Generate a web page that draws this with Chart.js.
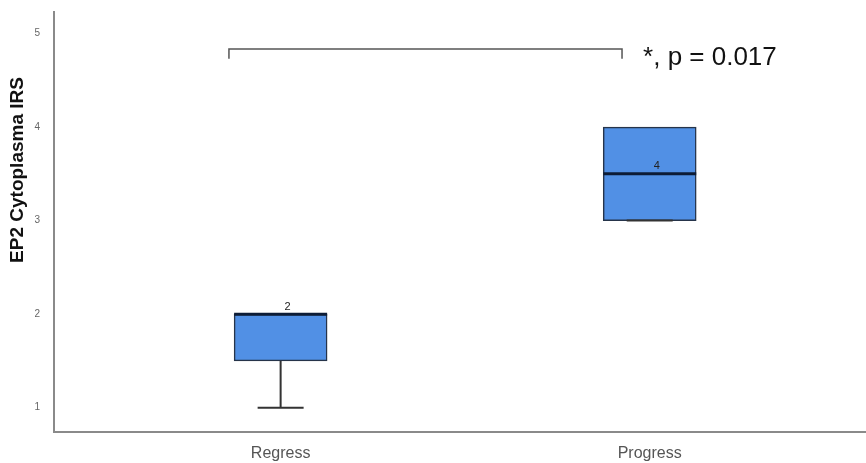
<!DOCTYPE html>
<html>
<head>
<meta charset="utf-8">
<script src="https://cdn.jsdelivr.net/npm/chart.js@4.4.1/dist/chart.umd.min.js"></script>
<style>
  body { margin: 0; background: #fff; }
  #wrap { width: 866px; height: 463px; }
</style>
</head>
<body>
<div id="wrap"><canvas id="boxChart" width="866" height="463"></canvas></div>
<script>
// box plot values per group
const groups = ['Regress', 'Progress'];
const groupPos = [1, 2];
const minVals = [1, 3];
const q1Vals = [1.5, 3];
const medianVals = [2, 3.5];
const q3Vals = [2, 4];
const maxVals = [2, 4];
const boxLabels = ['2', '4'];
const yTicks = [1, 2, 3, 4, 5];

// significance bracket (data coords)
const bracketX = [0.86, 1.925];
const bracketY = [4.835, 4.73];
const pValueText = '*, p = 0.017';
const pValuePos = [1.982, 4.66];

const yTitle = 'EP2 Cytoplasma IRS';

const boxPlugin = {
  id: 'boxParts',
  afterDatasetsDraw(chart) {
    const ctx = chart.ctx;
    const xs = chart.scales.x, ys = chart.scales.y;
    ctx.save();
    groups.forEach((g, i) => {
      const cx = xs.getPixelForValue(groupPos[i]);
      const half = 46.5;
      // whiskers
      ctx.strokeStyle = '#333';
      ctx.lineWidth = 2;
      ctx.beginPath();
      ctx.moveTo(cx, ys.getPixelForValue(q1Vals[i]));
      ctx.lineTo(cx, ys.getPixelForValue(minVals[i]));
      ctx.moveTo(cx - 23, ys.getPixelForValue(minVals[i]));
      ctx.lineTo(cx + 23, ys.getPixelForValue(minVals[i]));
      if (maxVals[i] > q3Vals[i]) {
        ctx.moveTo(cx, ys.getPixelForValue(q3Vals[i]));
        ctx.lineTo(cx, ys.getPixelForValue(maxVals[i]));
        ctx.moveTo(cx - 23, ys.getPixelForValue(maxVals[i]));
        ctx.lineTo(cx + 23, ys.getPixelForValue(maxVals[i]));
      }
      ctx.stroke();
      // median
      const my = ys.getPixelForValue(medianVals[i]);
      ctx.strokeStyle = '#0d1c36';
      ctx.lineWidth = 3;
      ctx.beginPath();
      ctx.moveTo(cx - half, my);
      ctx.lineTo(cx + half, my);
      ctx.stroke();
      // label
      ctx.fillStyle = '#222';
      ctx.font = '11px "Liberation Sans", Arial, sans-serif';
      ctx.textAlign = 'center';
      ctx.textBaseline = 'bottom';
      ctx.fillText(boxLabels[i], cx + 7, my - 2);
    });

    // bracket
    const x0 = xs.getPixelForValue(bracketX[0]);
    const x1 = xs.getPixelForValue(bracketX[1]);
    const yTop = ys.getPixelForValue(bracketY[0]);
    const yEnd = ys.getPixelForValue(bracketY[1]);
    ctx.strokeStyle = '#555';
    ctx.lineWidth = 1.5;
    ctx.beginPath();
    ctx.moveTo(x0, yEnd);
    ctx.lineTo(x0, yTop);
    ctx.lineTo(x1, yTop);
    ctx.lineTo(x1, yEnd);
    ctx.stroke();

    ctx.fillStyle = '#111';
    ctx.font = '26px "Liberation Sans", Arial, sans-serif';
    ctx.textAlign = 'left';
    ctx.textBaseline = 'alphabetic';
    ctx.fillText(pValueText, xs.getPixelForValue(pValuePos[0]), ys.getPixelForValue(pValuePos[1]));

    // y axis title
    ctx.translate(18, 170);
    ctx.rotate(-Math.PI / 2);
    ctx.fillStyle = '#111';
    ctx.font = 'bold 19px "Liberation Sans", Arial, sans-serif';
    ctx.textAlign = 'center';
    ctx.textBaseline = 'middle';
    ctx.fillText(yTitle, 0, 0);
    ctx.restore();
  }
};

new Chart(document.getElementById('boxChart'), {
  type: 'bar',
  data: {
    datasets: [{
      data: groupPos.map((p, i) => ({ x: p, y: [q1Vals[i], q3Vals[i]] })),
      backgroundColor: '#5190e5',
      borderColor: '#26344a',
      borderWidth: 1.5,
      borderSkipped: false,
      barThickness: 93
    }]
  },
  options: {
    responsive: false,
    animation: false,
    layout: { padding: { top: 10, right: 0, left: 0, bottom: 0 } },
    plugins: {
      legend: { display: false },
      tooltip: { enabled: false }
    },
    scales: {
      x: {
        type: 'linear',
        offset: false,
        min: 0.386,
        max: 2.586,
        grid: { display: false },
        border: { color: '#8a8a8a', width: 2 },
        afterBuildTicks: (s) => { s.ticks = groupPos.map(v => ({ value: v })); },
        afterFit: (s) => { s.height = 31; },
        ticks: {
          padding: 4,
          color: '#555',
          font: { size: 16, family: '"Liberation Sans", Arial, sans-serif' },
          callback: (v) => groups[groupPos.indexOf(v)] || ''
        }
      },
      y: {
        min: 0.74,
        max: 5.23,
        grid: { display: false },
        border: { color: '#8a8a8a', width: 2 },
        afterBuildTicks: (s) => { s.ticks = yTicks.map(v => ({ value: v })); },
        afterFit: (s) => { s.width = 54; },
        ticks: {
          padding: 6,
          color: '#666',
          font: { size: 10, family: '"Liberation Sans", Arial, sans-serif' }
        }
      }
    }
  },
  plugins: [boxPlugin]
});
</script>
</body>
</html>
